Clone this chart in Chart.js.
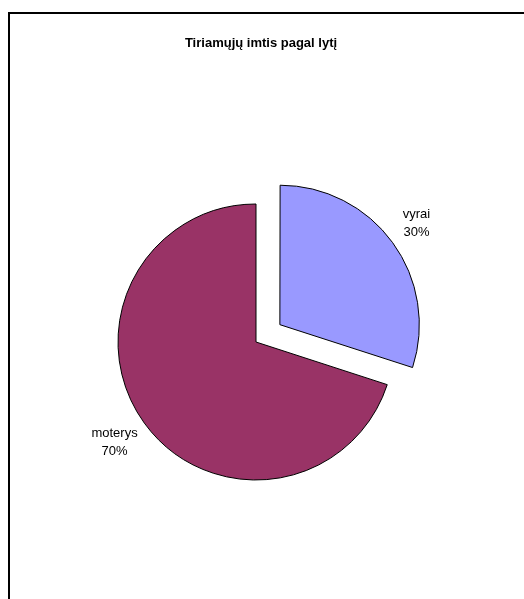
<!DOCTYPE html>
<html>
<head>
<meta charset="utf-8">
<script src="https://cdn.jsdelivr.net/npm/chart.js@4.4.0/dist/chart.umd.min.js"></script>
<style>
  body { margin: 0; background: #fff; }
  #wrap { position: relative; width: 524px; height: 599px; overflow: hidden; }
  #frame { position: absolute; left: 8px; top: 12px; width: 600px; height: 700px; border: 2px solid #000; box-sizing: border-box; }
  #myChart { position: absolute; left: 0; top: 0; }
</style>
</head>
<body>
<div id="wrap">
  <div id="frame"></div>
  <canvas id="myChart" width="524" height="599"></canvas>
</div>
<script>
const titulas = 'Tiriamųjų imtis pagal lytį'
const kategorijos = ['vyrai', 'moterys']
const reiksmes = [30, 70]
const spalvos = ['#9999FF', '#993366']
const atitraukimas = [118, 0]

// etiketes prie kiekvieno sektoriaus + pavadinimas
const etiketes = {
  id: 'etiketes',
  afterDraw(chart) {
    const ctx = chart.ctx
    const meta = chart.getDatasetMeta(0)
    const total = reiksmes.reduce((a, b) => a + b, 0)
    ctx.save()
    ctx.fillStyle = '#000'
    ctx.textAlign = 'center'
    ctx.textBaseline = 'middle'
    ctx.font = 'bold 13px "Liberation Sans", Arial, sans-serif'
    ctx.fillText(titulas, 261, 43)
    ctx.font = '13px "Liberation Sans", Arial, sans-serif'
    meta.data.forEach((arc, i) => {
      const mid = (arc.startAngle + arc.endAngle) / 2
      const circ = arc.endAngle - arc.startAngle
      const off = (atitraukimas[i] || 0) / 4
      const shift = off + off * (1 - Math.sin(Math.min(Math.PI, circ)))
      const d = shift + arc.outerRadius * 1.24
      const x = arc.x + Math.cos(mid) * d - 3
      const y = arc.y + Math.sin(mid) * d
      const pct = Math.round(reiksmes[i] / total * 100) + '%'
      ctx.fillText(kategorijos[i], x, y - 9)
      ctx.fillText(pct, x, y + 9)
    })
    ctx.restore()
  }
}

new Chart(document.getElementById('myChart'), {
  type: 'pie',
  data: {
    labels: kategorijos,
    datasets: [{
      data: reiksmes,
      backgroundColor: spalvos,
      borderColor: '#000',
      borderWidth: 1,
      offset: atitraukimas,
      hoverOffset: 0,
      radius: 138
    }]
  },
  options: {
    responsive: false,
    animation: false,
    events: [],
    layout: { padding: { top: 90, bottom: 5, left: 0, right: 12 } },
    plugins: {
      legend: { display: false },
      title: { display: false },
      tooltip: { enabled: false }
    }
  },
  plugins: [etiketes]
})
</script>
</body>
</html>
